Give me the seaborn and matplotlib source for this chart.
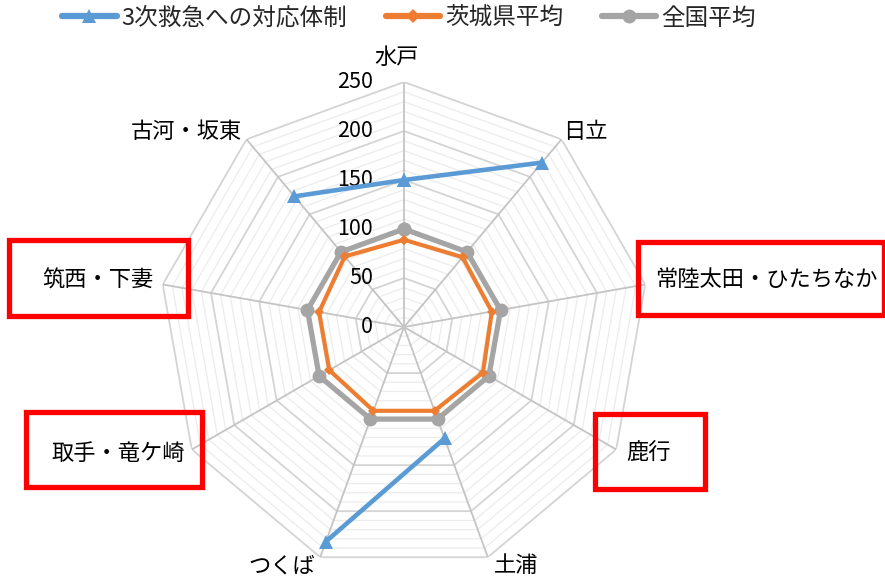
import numpy as np
import pandas as pd
import matplotlib
matplotlib.use("Agg")
import matplotlib.pyplot as plt
import matplotlib.patches as mpatches
import matplotlib.transforms as mtransforms
import seaborn as sns

# ---- data ----
categories = ["水戸", "日立", "常陸太田・ひたちなか", "鹿行", "土浦", "つくば",
              "取手・竜ケ崎", "筑西・下妻", "古河・坂東"]
tertiary = [150, 219, np.nan, np.nan, 121, 233, np.nan, np.nan, 174]
ibaraki_avg = [89, 93, 91, 93, 91, 91, 88, 88, 94]
national_avg = [100, 100, 100, 100, 100, 100, 100, 100, 100]
series_names = ["3次救急への対応体制", "茨城県平均", "全国平均"]
r_ticks = [0, 50, 100, 150, 200, 250]
boxed = ["常陸太田・ひたちなか", "鹿行", "取手・竜ケ崎", "筑西・下妻"]

# ---- style ----
sns.set_theme(style="white")
plt.rcParams["font.family"] = ["Noto Sans CJK JP", "DejaVu Sans"]

W, H = 885, 578
fig = plt.figure(figsize=(W / 100, H / 100), dpi=100)
cx, cy, R = 404, 327, 245
ax = fig.add_axes([(cx - R) / W, (H - cy - R) / H, 2 * R / W, 2 * R / H],
                  projection="polar")
ax.set_theta_zero_location("N")
ax.set_theta_direction(-1)
ax.set_ylim(0, 250)
ax.grid(False)
ax.spines["polar"].set_visible(False)
ax.set_xticks([])
ax.set_yticks([])
ax.patch.set_alpha(0)

n = len(categories)
theta = np.arange(n) * 2 * np.pi / n
theta_closed = np.append(theta, 2 * np.pi)

# polygon grid
for r in range(10, 251, 10):
    major = (r % 50 == 0)
    ax.plot(theta_closed, [r] * (n + 1),
            color="#d4d4d4" if major else "#ececec",
            lw=1.3 if major else 0.9, zorder=1)
for t in theta:
    ax.plot([t, t], [0, 250], color="#c4c4c4", lw=1.3, zorder=1)

# radial tick labels
off = ax.transData + mtransforms.ScaledTranslation(-31 / 100, 0, fig.dpi_scale_trans)
for r in r_ticks:
    ax.text(0, r, str(r), transform=off, ha="right", va="center",
            fontsize=15.5, color="#000000", zorder=3)

colors = ["#5B9BD5", "#ED7D31", "#A5A5A5"]

# national average
df_nat = pd.DataFrame({"theta": theta_closed,
                       "r": national_avg + national_avg[:1]})
sns.lineplot(data=df_nat, x="theta", y="r", ax=ax, color=colors[2], lw=3.8,
             marker="o", markersize=10, markeredgewidth=0, sort=False,
             zorder=4, label=series_names[2], legend=False)
# ibaraki average
df_ib = pd.DataFrame({"theta": theta_closed,
                      "r": ibaraki_avg + ibaraki_avg[:1]})
sns.lineplot(data=df_ib, x="theta", y="r", ax=ax, color=colors[1], lw=3.0,
             marker="D", markersize=5, markeredgewidth=0, sort=False,
             zorder=5, label=series_names[1], legend=False)
# tertiary (with gaps)
tert_closed = tertiary + tertiary[:1]
ax.plot(theta_closed, tert_closed, color=colors[0], lw=3.3, marker="^",
        markersize=10, markeredgewidth=0, zorder=6, label=series_names[0],
        clip_on=False)
ax.set_xlabel("")
ax.set_ylabel("")

# category labels
label_px = [(397, 57), (585, 131), (766, 280), (649, 453), (516, 566),
            (282, 566), (118, 453), (98, 280), (186, 131)]
for cat, (px, py) in zip(categories, label_px):
    fig.text(px / W, 1 - py / H, cat, ha="center", va="center",
             fontsize=16, color="#000000")

# red boxes
box_px = {"常陸太田・ひたちなか": (638, 242, 884, 315),
          "鹿行": (595, 414, 705, 489),
          "取手・竜ケ崎": (26, 412, 202, 487),
          "筑西・下妻": (9, 240, 188, 316)}
for name in boxed:
    x0, y0, x1, y1 = box_px[name]
    fig.patches.append(mpatches.Rectangle((x0 / W, 1 - y1 / H),
                                          (x1 - x0) / W, (y1 - y0) / H,
                                          transform=fig.transFigure,
                                          fill=False, edgecolor="#FF0000",
                                          lw=3.8, zorder=10))

# legend
handles = [plt.Line2D([], [], color=colors[0], lw=4.5, marker="^", markersize=10,
                      markeredgewidth=0),
           plt.Line2D([], [], color=colors[1], lw=4.5, marker="D", markersize=7,
                      markeredgewidth=0),
           plt.Line2D([], [], color=colors[2], lw=4.5, marker="o", markersize=10,
                      markeredgewidth=0)]
fig.legend(handles, series_names, loc="center", bbox_to_anchor=(409 / W, 1 - 18 / H),
           ncol=3, frameon=False, fontsize=17, handlelength=2.3,
           handletextpad=0.2, columnspacing=1.65)

fig.savefig("out.png", dpi=100)
